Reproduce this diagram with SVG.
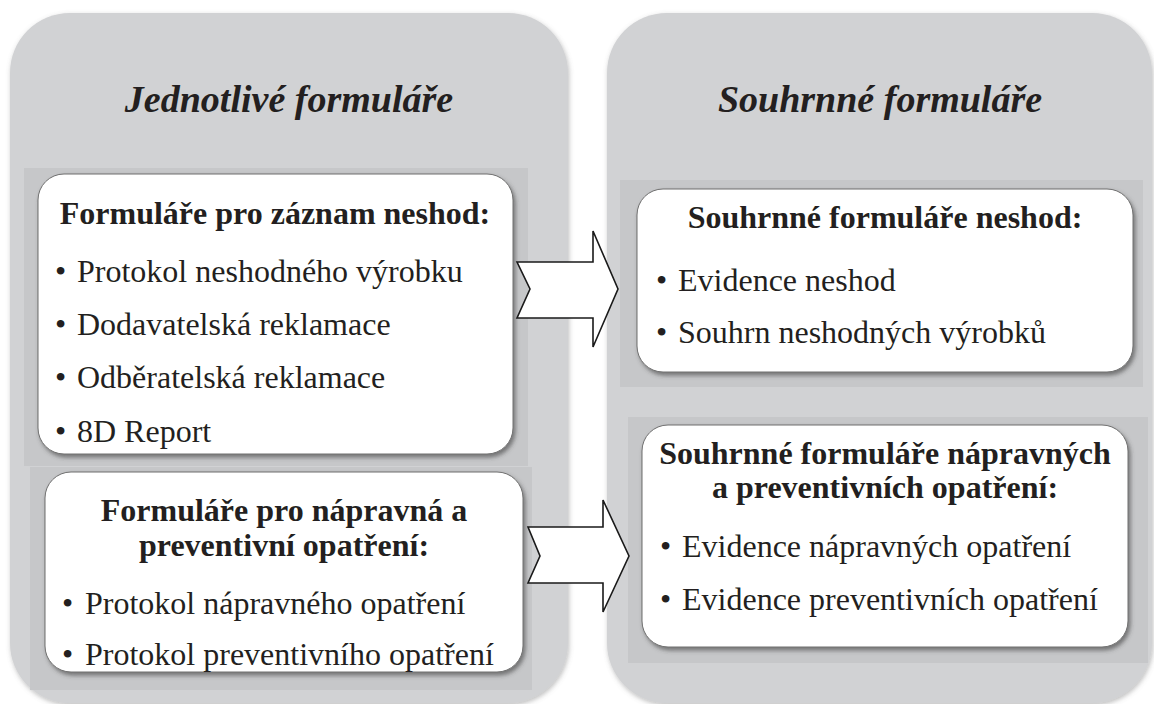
<svg xmlns="http://www.w3.org/2000/svg" width="1154" height="704" viewBox="0 0 1154 704">
  <defs>
    <filter id="panelShadow" x="-5%" y="-5%" width="110%" height="110%">
      <feDropShadow dx="1" dy="2" stdDeviation="2.5" flood-color="#6d6e70" flood-opacity="0.45"/>
    </filter>
    <filter id="boxShadow" x="-5%" y="-5%" width="110%" height="115%">
      <feDropShadow dx="2" dy="3" stdDeviation="2" flood-color="#3a3a3a" flood-opacity="0.6"/>
    </filter>
    <style>
      .panel { fill: #d1d2d4; }
      .band { fill: #c6c7c9; }
      .box { fill: #ffffff; stroke: #6f6f6f; stroke-width: 1; }
      text { font-family: 'Liberation Serif', Tinos, 'Times New Roman', 'DejaVu Serif', serif; fill: #231f20; }
      .heading { font-size: 38px; font-weight: bold; font-style: italic; text-anchor: middle; }
      .title { font-size: 32px; font-weight: bold; text-anchor: middle; }
      .item { font-size: 32px; }
      .arrow { fill: #ffffff; stroke: #1a1a1a; stroke-width: 1.6; stroke-linejoin: miter; }
    </style>
  </defs>

  <rect width="1154" height="704" fill="#ffffff"/>

  <!-- left column: individual forms -->
  <g id="panel-left">
    <rect class="panel" x="10" y="13" width="558" height="690" rx="60" ry="60" filter="url(#panelShadow)"/>
    <text class="heading" x="289" y="112" font-family="Liberation Serif, serif">Jednotlivé formuláře</text>
  </g>

  <!-- right column: summary forms -->
  <g id="panel-right">
    <rect class="panel" x="607" y="13" width="545" height="690" rx="60" ry="60" filter="url(#panelShadow)"/>
    <text class="heading" x="880" y="112" font-family="Liberation Serif, serif">Souhrnné formuláře</text>
  </g>

  <g id="node-nonconformity-forms">
    <rect class="band" x="24" y="168" width="504" height="298"/>
    <rect class="box" x="38" y="174" width="475" height="280" rx="26" ry="26" filter="url(#boxShadow)"/>
    <text class="title" x="275" y="224" font-family="Liberation Serif, serif">Formuláře pro záznam neshod:</text>
    <text class="item" x="55" y="282" font-family="Liberation Serif, serif">•<tspan x="77">Protokol neshodného výrobku</tspan></text>
    <text class="item" x="55" y="335" font-family="Liberation Serif, serif">•<tspan x="77">Dodavatelská reklamace</tspan></text>
    <text class="item" x="55" y="388" font-family="Liberation Serif, serif">•<tspan x="77">Odběratelská reklamace</tspan></text>
    <text class="item" x="55" y="442" font-family="Liberation Serif, serif">•<tspan x="77">8D Report</tspan></text>
  </g>

  <g id="node-corrective-forms">
    <rect class="band" x="30" y="467" width="502" height="223"/>
    <rect class="box" x="45" y="472" width="478" height="200" rx="26" ry="26" filter="url(#boxShadow)"/>
    <text class="title" x="284" y="521" font-family="Liberation Serif, serif">Formuláře pro nápravná a</text>
    <text class="title" x="284" y="556" font-family="Liberation Serif, serif">preventivní opatření:</text>
    <text class="item" x="62" y="614" font-family="Liberation Serif, serif">•<tspan x="85">Protokol nápravného opatření</tspan></text>
    <text class="item" x="62" y="665" font-family="Liberation Serif, serif">•<tspan x="85">Protokol preventivního opatření</tspan></text>
  </g>

  <g id="node-nonconformity-summary">
    <rect class="band" x="620" y="180" width="523" height="207"/>
    <rect class="box" x="637" y="189" width="496" height="183" rx="26" ry="26" filter="url(#boxShadow)"/>
    <text class="title" x="885" y="228" font-family="Liberation Serif, serif">Souhrnné formuláře neshod:</text>
    <text class="item" x="656" y="291" font-family="Liberation Serif, serif">•<tspan x="678">Evidence neshod</tspan></text>
    <text class="item" x="656" y="343" font-family="Liberation Serif, serif">•<tspan x="678">Souhrn neshodných výrobků</tspan></text>
  </g>

  <g id="node-corrective-summary">
    <rect class="band" x="628" y="417" width="520" height="246"/>
    <rect class="box" x="642" y="425" width="486" height="222" rx="26" ry="26" filter="url(#boxShadow)"/>
    <text class="title" x="885" y="464" font-family="Liberation Serif, serif">Souhrnné formuláře nápravných</text>
    <text class="title" x="885" y="498" font-family="Liberation Serif, serif">a preventivních opatření:</text>
    <text class="item" x="660" y="557" font-family="Liberation Serif, serif">•<tspan x="682">Evidence nápravných opatření</tspan></text>
    <text class="item" x="660" y="610" font-family="Liberation Serif, serif">•<tspan x="682">Evidence preventivních opatření</tspan></text>
  </g>

  <!-- block arrows between the columns -->
  <g id="connectors">
    <polygon class="arrow" points="517,262 593,262 593,231 618,289 593,347 593,318 517,318 530,289"/>
    <polygon class="arrow" points="528,527 603,527 603,500 629,556 603,612 603,583 528,583 540,556"/>
  </g>
</svg>
